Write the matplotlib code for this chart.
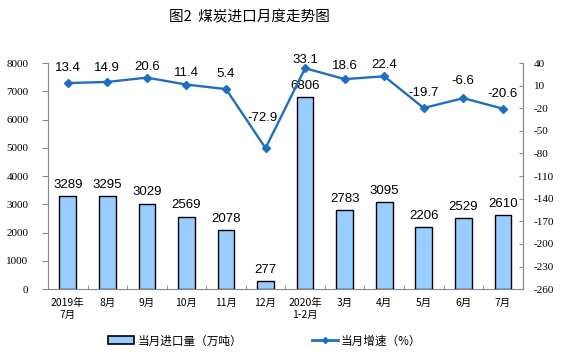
import matplotlib
matplotlib.use("Agg")
import matplotlib.pyplot as plt
import numpy as np
from matplotlib.lines import Line2D
from matplotlib.patches import Patch

categories = ["2019年\n7月", "8月", "9月", "10月", "11月", "12月", "2020年\n1-2月", "3月", "4月", "5月", "6月", "7月"]
imports = [3289, 3295, 3029, 2569, 2078, 277, 6806, 2783, 3095, 2206, 2529, 2610]
growth = [13.4, 14.9, 20.6, 11.4, 5.4, -72.9, 33.1, 18.6, 22.4, -19.7, -6.6, -20.6]
left_ticks = list(range(0, 8001, 1000))
right_ticks = list(range(-260, 41, 30))

# label offsets (points) for the growth-rate labels, as placed in the reference
growth_label_dy = [10.8, 10, 8, 8, 10.8, 21.6, 5.8, 9.4, 8, 10.8, 12, 10.8]
growth_label_dx = [0, 0, 0, 0, 0, -2, 0, 0, 0, 0, 0, 0]

cjk = ["Noto Sans CJK SC", "DejaVu Sans"]
serif = "Liberation Serif"
sans = "Liberation Sans"

fig = plt.figure(figsize=(5.61, 3.57), dpi=100)
ax = fig.add_axes([0.0856, 0.19, 0.846, 0.6335])
x = np.arange(len(categories))
bar_color = "#99CCFF"
line_color = "#1F6FC0"

ax.bar(x, imports, width=0.42, color=bar_color, edgecolor="black", linewidth=1.0, zorder=2)
for xi, v in zip(x, imports):
    ax.annotate(str(v), (xi, v), xytext=(0, 8), textcoords="offset points",
                ha="center", va="center", fontsize=9.5, family=sans)

ax.set_xlim(-0.5, len(categories) - 0.5)
ax.set_ylim(0, 8000)
ax.set_yticks(left_ticks)
ax.set_yticklabels([str(t) for t in left_ticks], family=serif, fontsize=8)
ax.set_xticks(x)
ax.set_xticklabels(categories, family=cjk, fontsize=7.5, linespacing=1.3)
ax.set_xticks(np.arange(-0.5, len(categories), 1), minor=True)
ax.tick_params(axis="x", which="major", length=0, pad=6)
ax.tick_params(axis="x", which="minor", length=3, direction="in", color="#888888")
ax.tick_params(axis="y", length=4, direction="out", color="#888888", pad=10)
for s in ax.spines.values():
    s.set_color("#888888")
ax.spines["top"].set_visible(False)

ax2 = ax.twinx()
ax2.plot(x, growth, color=line_color, linewidth=1.7, marker="D", markersize=4.2, zorder=3)
for xi, v, dx, dy in zip(x, growth, growth_label_dx, growth_label_dy):
    ax2.annotate(f"{v}", (xi, v), xytext=(dx, dy), textcoords="offset points",
                 ha="center", va="center", fontsize=9.5, family=sans, annotation_clip=False)
ax2.set_ylim(-260, 40)
ax2.set_yticks(right_ticks)
ax2.set_yticklabels([str(t) for t in right_ticks], family=serif, fontsize=8)
ax2.tick_params(axis="y", length=3, direction="in", color="#888888", pad=8)
for s in ax2.spines.values():
    s.set_color("#888888")
ax2.spines["top"].set_visible(False)
ax2.spines["left"].set_visible(False)
ax2.spines["bottom"].set_visible(False)

fig.text(0.445, 0.952, "图2  煤炭进口月度走势图", ha="center", va="center", fontsize=10.5, family=cjk)

handles = [Patch(facecolor=bar_color, edgecolor="black", linewidth=1.2),
           Line2D([0], [0], color=line_color, linewidth=2, marker="D", markersize=3)]
fig.legend(handles, ["当月进口量（万吨）", "当月增速（%）"], loc="center", bbox_to_anchor=(0.472, 0.045),
           ncol=2, frameon=False, prop={"family": cjk, "size": 8.4}, columnspacing=6.0, handlelength=2.2,
           handletextpad=0.3)

fig.savefig("out.png", dpi=100)
